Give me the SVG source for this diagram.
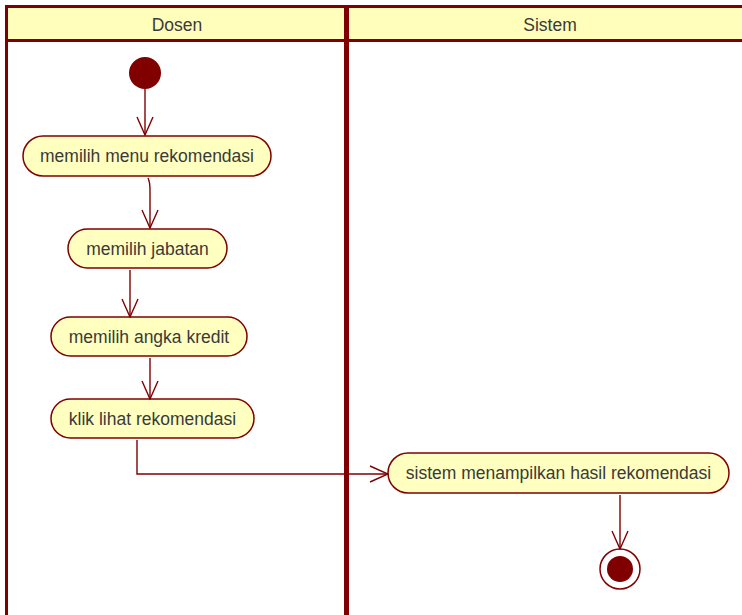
<svg xmlns="http://www.w3.org/2000/svg" width="742" height="615" viewBox="0 0 742 615">
<defs>
<style>
.lane{fill:none;stroke:#800000}
.hdr{fill:#ffffbb}
.t{font-family:"Liberation Sans",Arial,sans-serif;font-size:17.5px;fill:#3a3a3a;text-anchor:middle}
.act{fill:#ffffc0;stroke:#800000;stroke-width:1.5}
.c{fill:none;stroke:#800000;stroke-width:1.4}
</style>
<marker id="arr" viewBox="0 0 20 20" refX="19" refY="10" markerWidth="20" markerHeight="20" markerUnits="userSpaceOnUse" orient="auto">
<path d="M1,2 L19,10 L1,18" fill="none" stroke="#800000" stroke-width="1.4"/>
</marker>
</defs>
<rect width="742" height="615" fill="#ffffff"/>
<g id="lanes">
<rect class="hdr" x="6" y="6" width="740" height="35"/>
<line class="lane" x1="5" y1="6.5" x2="742" y2="6.5" stroke-width="3"/>
<line class="lane" x1="6" y1="40.5" x2="742" y2="40.5" stroke-width="3"/>
<line class="lane" x1="6.5" y1="5" x2="6.5" y2="615" stroke-width="3"/>
<line class="lane" x1="346.5" y1="5" x2="346.5" y2="615" stroke-width="5"/>
<text class="t" x="177" y="31">Dosen</text>
<text class="t" x="550" y="31">Sistem</text>
</g>
<g id="start"><circle cx="145" cy="73" r="16" fill="#800000"/></g>
<g id="a1"><rect class="act" x="23" y="136" width="248" height="40" rx="20"/><text class="t" x="147" y="162">memilih menu rekomendasi</text></g>
<g id="a2"><rect class="act" x="68" y="229" width="159" height="39" rx="19.5"/><text class="t" x="147.5" y="254.5">memilih jabatan</text></g>
<g id="a3"><rect class="act" x="51" y="317" width="196" height="39" rx="19.5"/><text class="t" x="149" y="342.5">memilih angka kredit</text></g>
<g id="a4"><rect class="act" x="51" y="399" width="203" height="39" rx="19.5"/><text class="t" x="152.5" y="424.5">klik lihat rekomendasi</text></g>
<g id="a5"><rect class="act" x="388" y="453" width="341" height="40" rx="20"/><text class="t" x="558.5" y="479">sistem menampilkan hasil rekomendasi</text></g>
<g id="end"><circle cx="620" cy="569" r="20" fill="#ffffff" stroke="#800000" stroke-width="1.5"/><circle cx="620" cy="569" r="13" fill="#800000"/></g>
<g id="connectors">
<path class="c" d="M145,89 L145,135" marker-end="url(#arr)"/>
<path class="c" d="M148,178 Q150,182 150,190 L150,228" marker-end="url(#arr)"/>
<path class="c" d="M130,270 L130,317" marker-end="url(#arr)"/>
<path class="c" d="M150,358 L150,399" marker-end="url(#arr)"/>
<path class="c" d="M137,440 L137,474 L388,474" marker-end="url(#arr)"/>
<path class="c" d="M620,495 L620,549" marker-end="url(#arr)"/>
</g>
</svg>
